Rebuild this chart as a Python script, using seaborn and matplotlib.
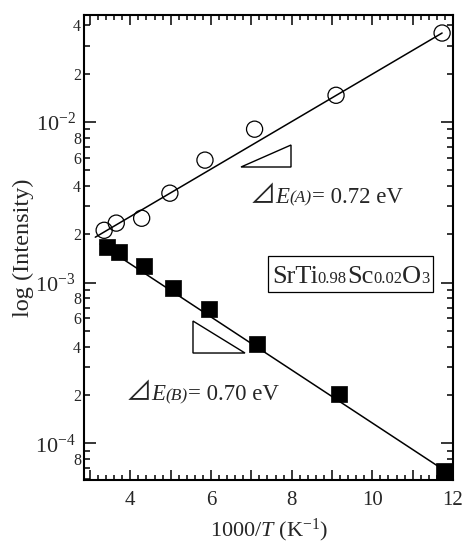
"""Arrhenius plot of two luminescence bands for SrTi0.98Sc0.02O3."""

import math

import matplotlib

matplotlib.use("Agg")

import matplotlib.pyplot as plt
import pandas as pd
import seaborn as sns
from matplotlib.patches import Polygon, Rectangle
from matplotlib.ticker import FuncFormatter, LogLocator, MultipleLocator

# inverse temperature 1000/T (K^-1) and intensities
temps_a = [3.35, 3.65, 4.28, 4.98, 5.85, 7.08, 9.10, 11.73]
intensity_a = [2.12e-3, 2.35e-3, 2.52e-3, 3.61e-3, 5.80e-3, 9.04e-3, 1.47e-2, 3.59e-2]
temps_b = [3.43, 3.73, 4.33, 5.05, 5.95, 7.15, 9.18, 11.78]
intensity_b = [1.66e-3, 1.55e-3, 1.27e-3, 9.24e-4, 6.84e-4, 4.14e-4, 2.02e-4, 6.70e-5]

# fitted lines (end points)
fit_a_x = [3.13, 11.73]
fit_a_y = [1.92e-3, 3.59e-2]
fit_b_x = [3.25, 11.78]
fit_b_y = [1.74e-3, 6.79e-5]

x_labels = [4, 6, 8, 10, 12]
minor_labelled = [2e-2, 4e-2, 2e-3, 4e-3, 6e-3, 8e-3, 2e-4, 4e-4, 6e-4, 8e-4, 8e-5]

sns.set_theme(style="ticks")
plt.rcParams["font.family"] = ["Liberation Serif", "DejaVu Sans"]
plt.rcParams["mathtext.fontset"] = "custom"
plt.rcParams["mathtext.rm"] = "Liberation Serif"
plt.rcParams["mathtext.it"] = "Liberation Serif:italic"
plt.rcParams["mathtext.default"] = "regular"

df_a = pd.DataFrame({"x": temps_a, "y": intensity_a})
df_b = pd.DataFrame({"x": temps_b, "y": intensity_b})
fit_a = pd.DataFrame({"x": fit_a_x, "y": fit_a_y})
fit_b = pd.DataFrame({"x": fit_b_x, "y": fit_b_y})

fig = plt.figure(figsize=(4.62, 5.43), dpi=100)
ax = fig.add_axes([0.1818, 0.116, 0.7987, 0.8564])
ax.set_yscale("log")

sns.lineplot(data=fit_a, x="x", y="y", ax=ax, color="black", linewidth=1.1, zorder=2)
sns.lineplot(data=fit_b, x="x", y="y", ax=ax, color="black", linewidth=1.1, zorder=2)
sns.scatterplot(data=df_a, x="x", y="y", ax=ax, marker="o", s=135,
                facecolors="none", edgecolor="black", linewidth=0.9, zorder=3)
sns.scatterplot(data=df_b, x="x", y="y", ax=ax, marker="s", s=125,
                color="black", edgecolor="black", linewidth=0.5, zorder=3)

ax.set_xlim(2.85, 12)
ax.set_ylim(5.9e-5, 4.65e-2)

# x ticks: every integer, labels on the even ones
ax.xaxis.set_major_locator(MultipleLocator(1))
ax.xaxis.set_minor_locator(MultipleLocator(0.2))
ax.xaxis.set_major_formatter(FuncFormatter(lambda v, p: f"{v:.0f}" if round(v) in x_labels else ""))

# y ticks: decades plus labelled mantissas
ax.yaxis.set_major_locator(LogLocator(base=10))
ax.yaxis.set_minor_locator(LogLocator(base=10, subs=range(2, 10)))


def major_fmt(v, pos):
    return r"$10^{%d}$" % int(round(math.log10(v)))


def minor_fmt(v, pos):
    for m in minor_labelled:
        if abs(v / m - 1) < 1e-6:
            return f"{int(round(v / 10 ** math.floor(math.log10(v) + 1e-9)))}"
    return ""


ax.yaxis.set_major_formatter(FuncFormatter(major_fmt))
ax.yaxis.set_minor_formatter(FuncFormatter(minor_fmt))

ax.tick_params(axis="both", which="both", direction="in", top=True, right=True,
               color="black", width=1.1)
ax.tick_params(axis="x", which="major", length=7, labelsize=15, pad=8)
ax.tick_params(axis="x", which="minor", length=3.6)
ax.tick_params(axis="y", which="major", length=8.5, labelsize=16, pad=6)
ax.tick_params(axis="y", which="minor", length=4.5, labelsize=11.5, pad=2)
for side in ax.spines.values():
    side.set_linewidth(1.5)
    side.set_color("black")

ax.set_xlabel(r"1000/$\mathit{T}$ (K$^{-1}$)", fontsize=16, labelpad=5)
ax.set_ylabel("log (Intensity)", fontsize=17.5, labelpad=1)

# slope triangles
ax.add_patch(Polygon([(0.4255, 0.6731), (0.5610, 0.7204), (0.5610, 0.6731)],
                     closed=True, fill=False, edgecolor="black", linewidth=1.0,
                     transform=ax.transAxes))
ax.add_patch(Polygon([(0.2954, 0.3419), (0.2954, 0.2731), (0.4363, 0.2731)],
                     closed=True, fill=False, edgecolor="black", linewidth=1.0,
                     transform=ax.transAxes))


def chain_text(x, y, pieces):
    """Place text pieces one after another on a shared baseline."""
    arts = []
    prev = None
    for s, kw in pieces:
        if prev is None:
            prev = ax.text(x, y, s, transform=ax.transAxes, ha="left", va="baseline", **kw)
        else:
            prev = ax.annotate(s, xy=(1, y), xycoords=(prev, "axes fraction"),
                               ha="left", va="baseline", **kw)
        arts.append(prev)
    return arts


def energy_label(x, y, band, value):
    return chain_text(x, y, [
        ("\u22bf", dict(fontsize=19, family=["Noto Sans CJK JP", "DejaVu Sans"])),
        ("E", dict(fontsize=16.5, style="italic")),
        (f"({band})", dict(fontsize=12.5, style="italic")),
        (f"= {value} eV", dict(fontsize=16.5)),
    ])


energy_label(0.448, 0.596, "A", "0.72")
energy_label(0.112, 0.172, "B", "0.70")

formula_y = 0.4237
formula = chain_text(0.509, formula_y, [
    ("SrTi", dict(fontsize=19)),
    ("0.98", dict(fontsize=12)),
    ("Sc", dict(fontsize=19)),
    ("0.02", dict(fontsize=12)),
    ("O", dict(fontsize=19)),
    ("3", dict(fontsize=12)),
])

# frame around the formula, sized from the rendered text
fig.canvas.draw()
renderer = fig.canvas.get_renderer()
x0 = min(t.get_window_extent(renderer).x0 for t in formula) - 4
x1 = max(t.get_window_extent(renderer).x1 for t in formula) + 3
base = ax.transAxes.transform((0, formula_y))[1]
inv = ax.transAxes.inverted()
(ax0, ay0) = inv.transform((x0, base - 9))
(ax1, ay1) = inv.transform((x1, base + 27))
ax.add_patch(Rectangle((ax0, ay0), ax1 - ax0, ay1 - ay0, fill=False,
                       edgecolor="black", linewidth=0.9, transform=ax.transAxes))

fig.savefig("out.png", dpi=100)
